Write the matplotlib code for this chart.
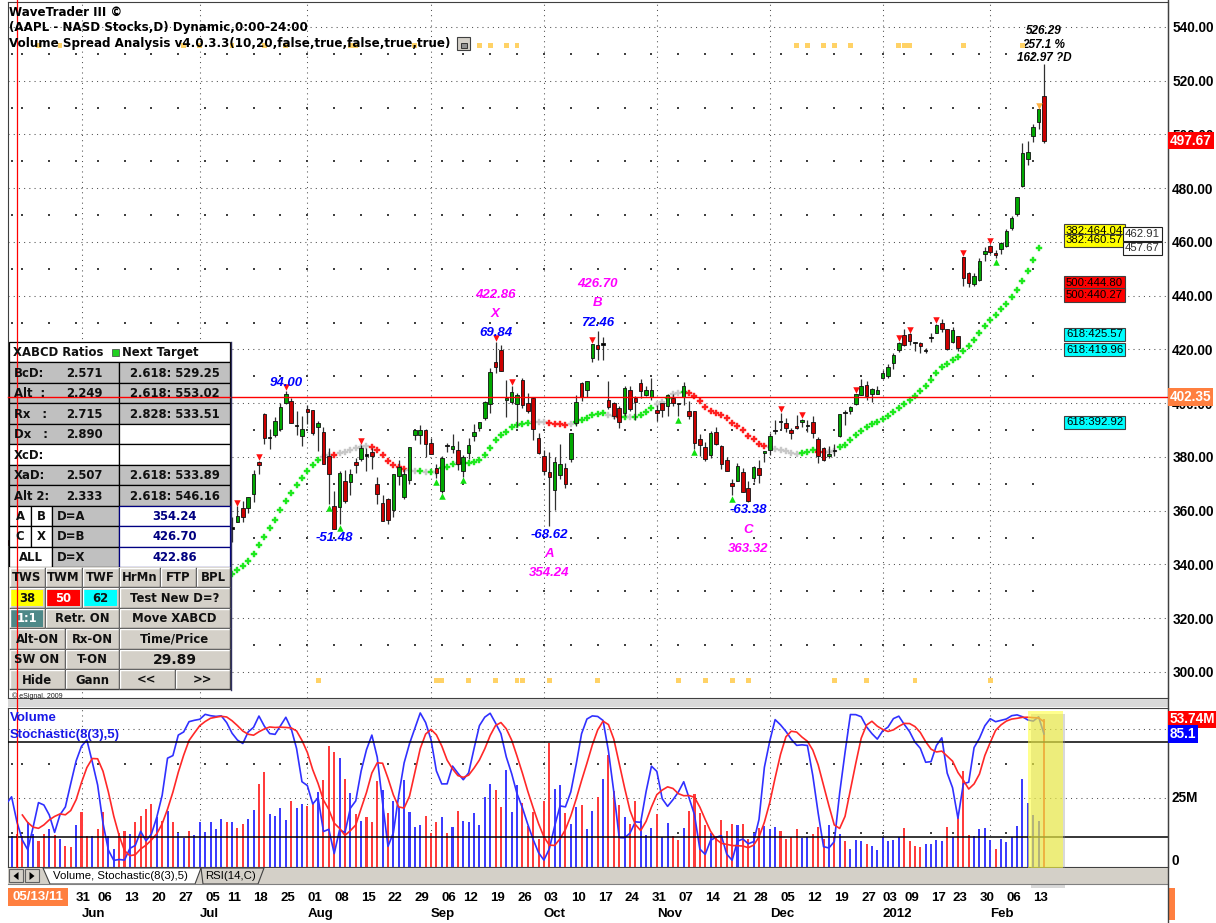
import numpy as np
import pandas as pd
import matplotlib
matplotlib.use("Agg")
import matplotlib.pyplot as plt
import matplotlib.transforms as mtrans
from matplotlib.patches import Rectangle, Polygon

plt.rcParams['font.family'] = ['Liberation Sans', 'DejaVu Sans']

# ---------------------------------------------------------------- data
holidays = ['2011-05-30', '2011-07-04', '2011-09-05', '2011-11-24',
            '2011-12-26', '2012-01-02', '2012-01-16']
n_pre = 11   # bars before the first displayed bar (2011-05-12)

opens = [
    352.24, 346.19, 346.78, 349.74, 347.99, 348.40, 348.25, 349.69, 347.86, 348.60, 349.02,
    346.12, 345.16, 339.20, 332.00, 336.47, 342.08, 339.56, 329.97, 335.50, 333.43, 335.97, 334.80, 341.10,
    348.87, 346.50, 343.61, 345.70, 338.34, 331.78, 333.25, 330.55, 326.20, 329.99, 329.66, 326.10, 328.99, 317.36, 316.68, 325.16, 318.03, 331.37, 327.59, 333.23, 336.37, 334.70,
    335.95, 343.00, 349.24, 354.67, 353.10, 356.75, 353.18, 355.74, 360.86, 361.17, 366.07, 378.00, 396.00, 386.95, 388.32, 390.35, 400.00, 401.00, 391.62, 387.64,
    397.78, 397.65, 390.98, 389.41, 380.44, 361.69, 361.30, 371.15, 370.52, 378.07, 379.26, 381.03, 382.00, 370.12, 362.80, 364.50, 360.31, 372.81, 365.19, 371.48, 388.12, 388.00, 390.20,
    385.01, 376.00, 367.18, 384.53, 383.00, 382.49, 374.88, 381.37, 387.90, 390.91, 394.47, 399.61, 415.20, 419.64, 401.07, 400.31, 399.86, 408.73, 400.19, 401.92, 387.12,
    380.37, 374.57, 367.86, 373.33, 375.78, 379.09, 392.57, 407.34, 404.93, 416.83, 421.75, 421.76, 401.35, 400.00, 398.10, 396.18, 405.00, 401.76, 407.56, 403.00, 402.42,
    397.41, 399.92, 399.07, 402.03, 399.91, 402.21, 396.97, 397.03, 386.61, 383.52, 380.80, 389.25, 383.98, 378.92, 370.40, 371.02, 374.51, 368.42, 372.35, 375.84, 381.29,
    382.54, 389.83, 393.49, 392.51, 389.93, 391.45, 392.85, 391.68, 393.00, 386.70, 383.33, 380.36, 382.47, 387.76, 396.69, 397.00, 399.69, 403.10, 406.89, 403.40, 403.51,
    409.40, 410.00, 414.95, 419.77, 425.50, 425.91, 422.59, 422.41, 419.53, 424.20, 426.28, 430.03, 427.49, 422.67, 425.10, 454.44, 448.45, 444.34, 445.71, 455.59,
    458.41, 455.90, 457.30, 458.38, 465.25, 470.50, 480.70, 490.96, 499.53, 504.66, 514.26]

highs = [
    352.35, 349.35, 353.95, 350.47, 349.89, 351.62, 350.80, 350.00, 349.20, 350.18, 350.00,
    347.12, 345.42, 341.22, 336.14, 341.05, 342.40, 340.95, 335.98, 335.90, 338.56, 336.89, 337.63, 347.90,
    352.13, 347.98, 347.87, 349.79, 339.00, 334.80, 333.78, 331.09, 328.31, 333.25, 330.19, 328.79, 329.25, 317.70, 325.80, 327.00, 331.69, 333.15, 333.90, 336.00, 336.82, 336.13,
    343.50, 349.83, 354.04, 357.92, 359.77, 358.67, 357.56, 361.60, 363.48, 365.00, 375.00, 378.63, 396.27, 390.25, 395.05, 400.00, 404.50, 401.88, 396.99, 395.15,
    399.50, 397.65, 393.55, 391.32, 383.50, 367.34, 374.61, 375.23, 375.45, 379.64, 384.59, 383.33, 383.23, 372.50, 366.00, 364.90, 373.64, 378.90, 375.45, 383.80, 389.70, 391.80, 390.25,
    387.00, 377.36, 380.25, 385.10, 388.41, 386.08, 380.88, 386.99, 392.17, 393.02, 400.87, 413.23, 422.86, 421.59, 408.69, 406.50, 403.98, 409.25, 403.74, 402.21, 388.89,
    382.64, 381.80, 379.82, 384.78, 377.74, 388.89, 403.18, 407.80, 408.43, 422.00, 426.70, 424.81, 408.42, 400.35, 399.14, 406.50, 406.39, 402.50, 409.00, 406.35, 409.33,
    399.50, 400.00, 403.40, 403.44, 400.00, 408.00, 400.89, 397.21, 388.70, 385.51, 389.50, 391.14, 384.58, 379.99, 371.68, 377.93, 375.84, 371.20, 376.50, 378.83, 382.28,
    389.00, 393.63, 396.41, 394.63, 390.94, 395.50, 394.04, 393.90, 395.40, 387.38, 383.74, 384.15, 384.85, 396.10, 397.30, 399.13, 403.59, 409.09, 408.25, 405.65, 406.28,
    412.50, 414.68, 418.55, 422.75, 427.75, 426.00, 422.85, 422.90, 420.45, 425.99, 429.47, 431.37, 427.50, 428.45, 425.10, 454.45, 448.79, 448.48, 453.90, 458.24,
    458.99, 457.17, 460.00, 464.98, 469.75, 476.79, 496.75, 497.62, 503.83, 509.56, 526.29]

lows = [
    347.10, 345.50, 346.67, 345.50, 345.62, 346.15, 344.54, 346.21, 346.53, 347.42, 345.24,
    342.27, 340.00, 332.60, 330.73, 336.00, 338.69, 335.02, 329.42, 331.34, 332.85, 334.43, 334.31, 341.10,
    344.65, 342.82, 342.33, 337.94, 331.87, 330.65, 329.83, 325.21, 325.07, 329.43, 324.76, 318.32, 319.36, 310.50, 315.20, 321.93, 318.12, 325.09, 326.41, 330.33, 331.93, 332.84,
    334.43, 342.50, 346.67, 353.01, 352.18, 352.19, 348.17, 355.61, 355.86, 358.98, 363.13, 373.75, 385.00, 383.00, 387.60, 389.55, 399.68, 392.49, 388.12, 384.00,
    392.37, 388.35, 382.24, 377.35, 362.57, 353.02, 355.00, 363.01, 365.67, 374.04, 378.57, 374.79, 375.68, 362.52, 356.00, 355.00, 357.58, 369.60, 364.17, 370.00, 386.24, 385.00, 380.04,
    380.96, 372.00, 366.72, 381.86, 381.42, 375.00, 372.65, 379.21, 386.00, 389.71, 393.87, 396.37, 411.23, 412.00, 395.00, 399.55, 391.30, 398.06, 396.51, 386.21, 381.18,
    373.17, 354.24, 360.30, 371.80, 368.49, 378.16, 391.50, 400.80, 402.40, 415.27, 415.99, 415.99, 397.80, 394.21, 390.75, 395.40, 397.00, 393.82, 401.89, 402.51, 401.05,
    393.22, 394.85, 395.36, 399.00, 395.11, 399.50, 394.23, 383.07, 380.26, 378.43, 379.45, 384.32, 375.50, 374.88, 365.91, 370.94, 366.88, 363.32, 370.80, 370.20, 378.30,
    380.75, 388.58, 390.39, 389.38, 386.76, 390.23, 391.03, 389.45, 387.10, 377.68, 378.31, 379.57, 380.48, 387.26, 392.01, 396.10, 399.49, 403.02, 401.34, 400.51, 403.49,
    409.00, 409.28, 412.67, 419.22, 421.35, 421.50, 419.31, 418.75, 418.66, 422.96, 426.30, 426.51, 419.75, 422.30, 419.55, 443.73, 443.14, 443.77, 445.39, 453.07,
    455.55, 453.98, 455.56, 458.20, 464.58, 469.70, 480.56, 488.55, 497.09, 502.00, 496.89]

closes = [
    350.15, 346.75, 350.13, 346.28, 348.20, 349.57, 346.75, 346.66, 347.60, 349.45, 347.23,
    346.57, 340.50, 333.30, 336.14, 339.87, 340.53, 335.22, 334.40, 332.19, 336.78, 335.00, 337.41, 347.83,
    345.51, 346.10, 343.44, 338.04, 332.04, 332.24, 331.49, 325.90, 326.60, 332.44, 326.75, 325.16, 320.26, 315.32, 325.30, 322.61, 331.23, 326.35, 332.04, 335.26, 334.04, 335.67,
    343.26, 349.43, 351.76, 357.20, 359.71, 354.00, 353.75, 358.02, 357.77, 364.92, 373.80, 376.85, 386.90, 387.29, 393.30, 398.50, 403.41, 392.59, 391.82, 390.48,
    396.75, 388.91, 392.57, 377.37, 373.62, 353.21, 374.01, 363.69, 373.70, 376.99, 383.41, 380.48, 380.44, 366.05, 356.03, 356.44, 373.60, 376.18, 373.72, 383.58, 389.97, 389.99, 384.83,
    381.03, 374.05, 379.74, 383.93, 384.14, 377.48, 379.94, 384.62, 389.30, 392.96, 400.50, 411.63, 413.45, 412.14, 401.82, 404.30, 403.17, 399.26, 397.01, 390.57, 381.32,
    374.60, 372.50, 378.25, 377.37, 369.80, 388.81, 400.29, 402.19, 408.43, 422.00, 419.99, 422.24, 398.62, 395.31, 392.87, 405.77, 397.77, 400.60, 404.69, 404.95, 404.78,
    396.51, 397.41, 403.07, 400.24, 399.73, 406.23, 395.28, 385.22, 384.62, 379.26, 388.83, 384.77, 377.41, 374.94, 369.01, 376.51, 366.99, 363.57, 376.12, 373.20, 382.20,
    387.93, 389.70, 393.01, 390.95, 389.09, 390.66, 393.62, 391.84, 388.81, 380.19, 378.94, 381.02, 382.21, 395.95, 396.44, 398.55, 403.33, 406.53, 402.64, 405.12, 405.00,
    411.23, 413.44, 418.03, 422.40, 421.73, 423.24, 422.55, 421.39, 419.81, 424.70, 429.11, 427.75, 420.30, 427.41, 420.41, 446.66, 444.63, 447.28, 453.01, 456.48,
    456.19, 455.12, 459.68, 463.97, 468.83, 476.68, 493.17, 493.42, 502.60, 509.46, 497.67]

# volume (millions) for displayed bars, 2011-05-12 .. 2012-02-15
volumes = [
    11.3, 12.0, 11.3, 16.2, 11.9, 9.4, 11.9, 13.7, 11.6, 10.0, 7.6, 7.4, 15.2, 19.9, 11.3, 11.3,
    13.7, 19.9, 11.3, 6.4, 12.5, 13.1, 11.9, 16.2, 18.6, 21.1, 22.9, 18.0, 16.8, 20.5, 16.2, 12.5,
    10.7, 13.1, 11.6, 16.2, 12.9, 16.2, 13.7, 17.4, 16.5, 16.4, 14.1, 15.8, 17.4, 20.7, 30.0, 34.6,
    19.2, 18.6, 21.4, 17.0, 23.9, 21.4, 22.9, 22.3, 23.2, 27.2, 31.7, 44.0, 41.9, 39.7, 32.1, 26.8,
    19.2, 16.8, 18.0, 16.2, 31.1, 28.1, 19.6, 23.9, 21.9, 31.7, 19.9, 14.6, 15.3, 18.6, 12.5, 16.2,
    18.3, 12.5, 14.7, 20.2, 16.8, 16.2, 19.7, 15.2, 25.4, 30.3, 28.1, 21.9, 35.4, 19.9, 29.7, 23.2,
    15.0, 19.9, 10.0, 24.1, 45.2, 28.4, 29.9, 19.5, 15.8, 21.7, 22.7, 13.7, 20.5, 25.4, 32.1, 40.7,
    27.6, 22.7, 18.3, 15.6, 24.1, 16.8, 11.6, 14.1, 19.2, 10.9, 15.9, 11.3, 9.7, 14.3, 20.2, 26.6,
    19.5, 15.3, 12.5, 10.9, 17.0, 13.1, 15.8, 15.3, 15.6, 10.0, 12.5, 14.3, 15.0, 13.7, 14.6, 13.1,
    10.0, 10.9, 13.7, 10.7, 10.9, 11.9, 14.7, 10.0, 15.2, 10.9, 11.9, 9.4, 6.7, 9.7, 9.4, 8.2,
    7.6, 6.1, 10.9, 9.4, 9.7, 11.0, 14.0, 9.4, 7.6, 7.2, 8.2, 8.5, 9.7, 9.4, 14.7, 10.9,
    19.2, 34.8, 11.6, 11.2, 13.7, 14.1, 9.7, 6.6, 10.0, 9.2, 10.9, 14.8, 32.1, 23.2, 18.9, 16.8,
    53.74]
# volume bar colour: b = blue, r = red
vol_dir = ("brrbbrrbrb" "rrbrrbrrbb" "rrbrrrrbrb" "rbbrbbbbbb" "rbrrbbrr"
           "bbbbrbbrrb" "rrrbrbrbrr" "rbrbbbbbbr" "rrbrbrbbbb" "bbrrbbbr"
           "rrrrrbbrbb" "rbbrbrrrbr" "rbbbrbbrrb" "rrrrbrrrrb" "rrbrbbbrr"
           "rrbbrrrbrb" "rbbbrbbbbb" "brrrrbbbbr" "brrrbbbbrb" "bbbbbbbr")

ref_price = 402.35
red_marks = [42, 46, 51, 65, 90, 93, 108, 143, 147, 157, 165, 167, 172, 177, 182]
green_marks = [59, 61, 79, 80, 84, 124, 127, 134, 183]
orange_marks = [191]
vsa_top = [5, 9, 32, 35, 41, 47, 51, 63, 64, 75, 87, 89, 92, 94, 146, 148, 151, 153, 156,
           165, 166, 167, 177, 188]
vsa_bottom = [57, 79, 80, 85, 90, 94, 95, 100, 109, 124, 129, 134, 137, 153, 159, 168, 182]

# swing labels: bar, side, swing size, letter, pivot price text
swings = [(51, 'high', '94.00', None, None),
          (60, 'low', '-51.48', None, None),
          (90, 'high', '69.84', 'X', '422.86'),
          (100, 'low', '-68.62', 'A', '354.24'),
          (109, 'high', '72.46', 'B', '426.70'),
          (137, 'low', '-63.38', 'C', '363.32')]
top_note = ['526.29', '257.1 %', '162.97 ?D']

fib_boxes = [('382:464.04', 464.04, '#FFFF00'), ('382:460.57', 460.57, '#FFFF00'),
             ('500:444.80', 444.80, '#FF0000'), ('500:440.27', 440.27, '#FF0000'),
             ('618:425.57', 425.57, '#00FFFF'), ('618:419.96', 419.96, '#00FFFF'),
             ('618:392.92', 392.92, '#00FFFF')]
side_boxes = [('462.91', 462.91), ('457.67', 457.67)]

price_ticks = list(range(300, 541, 20))
stoch_last = '85.1'
vol_last = '53.74M'

ratio_rows = [("BcD:", "2.571", "2.618: 529.25"), ("Alt  :", "2.249", "2.618: 553.02"),
              ("Rx   :", "2.715", "2.828: 533.51"), ("Dx   :", "2.890", ""),
              ("XcD:", "", ""), ("XaD:", "2.507", "2.618: 533.89"),
              ("Alt 2:", "2.333", "2.618: 546.16")]
d_rows = [("A", "B", "D=A", "354.24"), ("C", "X", "D=B", "426.70"), ("ALL", None, "D=X", "422.86")]

# ---------------------------------------------------------------- derived series
dates = pd.bdate_range('2011-04-27', '2012-02-15')
dates = dates[~dates.isin(pd.to_datetime(holidays))]
O = np.array(opens); Hh = np.array(highs); L = np.array(lows); C = np.array(closes)
N = len(C)
xi = np.arange(N) - n_pre
Cs, Hs, Ls = pd.Series(C), pd.Series(Hh), pd.Series(L)
ma = Cs.rolling(20).mean()
raw = (Cs - Ls.rolling(8).min()) / (Hs.rolling(8).max() - Ls.rolling(8).min()) * 100
k_line = raw.rolling(3).mean()
d_line = k_line.rolling(5).mean()

ddates = dates[n_pre:]
wk = ddates.to_period('W')
week_idx = [i for i in range(len(ddates)) if i == 0 or wk[i] != wk[i - 1]]
mo = ddates.to_period('M')
month_idx = [i for i in range(1, len(ddates)) if mo[i] != mo[i - 1]]

# ---------------------------------------------------------------- layout
W, H = 1216, 923
fig = plt.figure(figsize=(W / 100, H / 100), dpi=100)
fig.patch.set_facecolor('white')


def fa(x0, y0, x1, y1):
    return [x0 / W, 1 - y1 / H, (x1 - x0) / W, (y1 - y0) / H]


BAR0, BARW = 11.6, 5.377
XL = ((8 - BAR0) / BARW, (1168 - BAR0) / BARW)
dot = (0, (1, 4))
gridc = '#505050'
AXF = dict(fontsize=9.8, fontweight='bold')

# ---- price panel
ax = fig.add_axes(fa(8, 2, 1168, 698))
ax.set_xlim(*XL)
ax.set_ylim(290.3, 549.3)
for s in ax.spines.values():
    s.set_color('#404040')
ax.set_xticks([])
ax.yaxis.tick_right()
ax.set_yticks(price_ticks)
ax.set_yticklabels([f'{v:.2f}' for v in price_ticks], **AXF)
ax.tick_params(axis='y', length=0, pad=3)
for y in price_ticks:
    ax.axhline(y, color=gridc, lw=0.75, ls=dot, zorder=1)
for m in month_idx:
    ax.axvline(m, color=gridc, lw=0.75, ls=dot, zorder=1)
gx, gy = np.meshgrid(week_idx, np.arange(310, 540, 20))
ax.scatter(gx.ravel(), gy.ravel(), s=1.3, marker='s', color='#404040', lw=0, zorder=1)

# moving average dots (20-bar average of the closes)
slope = ma.diff()
for i in range(N):
    if xi[i] < 0 or xi[i] > 191 or np.isnan(ma[i]):
        continue
    if slope[i] >= 0 and C[i] >= ma[i]:
        col = '#1EE81E'
    elif slope[i] < 0 and C[i] < ma[i]:
        col = '#FF2020'
    else:
        col = '#C8C8C8'
    ax.plot(xi[i], ma[i], marker='P', ms=4.8, color=col, mec=col, mew=0.3, zorder=3)

# candles
ax.vlines(xi, L, Hh, colors='#303030', lw=0.9, zorder=4)
lo = np.minimum(O, C)
hgt = np.maximum(np.abs(C - O), 0.3)
body_col = np.where(np.abs(C - O) < 0.6, '#000000', np.where(C >= O, '#00A800', '#CC0000'))
ax.bar(xi, hgt, bottom=lo, width=0.66, color=body_col, edgecolor='#101010', linewidth=0.6, zorder=5)

for b in red_marks:
    j = b + n_pre
    ax.scatter(b, Hh[j] + 1.4, marker='v', s=22, color='#FF1010', lw=0, zorder=6)
for b in orange_marks:
    j = b + n_pre
    ax.scatter(b, Hh[j] + 1.2, marker='v', s=22, color='#FFB040', lw=0, zorder=6)
for b in green_marks:
    j = b + n_pre
    ax.scatter(b, L[j] - 1.4, marker='^', s=22, color='#10E010', lw=0, zorder=6)

PXU = 0.72  # points per pixel
for b, side, sz, letter, ptxt in swings:
    j = b + n_pre
    if side == 'high':
        y0 = Hh[j]; sign = 1
    else:
        y0 = L[j]; sign = -1
    kw = dict(xycoords='data', textcoords='offset points', ha='center', va='center',
              fontsize=9.5, fontweight='bold', fontstyle='italic', zorder=7)
    ax.annotate(sz, (b, y0), xytext=(0, sign * 8.5 * PXU), color='#0000FF', **kw)
    if letter:
        ax.annotate(letter, (b, y0), xytext=(0, sign * 28 * PXU), color='#FF00FF', **kw)
        ax.annotate(ptxt, (b, y0), xytext=(0, sign * 47 * PXU), color='#FF00FF', **kw)
jl = N - 1
for t, off in zip(top_note, [33, 19, 6]):
    ax.annotate(t, (xi[jl], Hh[jl]), xytext=(0, off * PXU), textcoords='offset points',
                ha='center', va='center', fontsize=8.5, fontweight='bold',
                fontstyle='italic', color='black', zorder=7)

# ---- lower panel
axv = fig.add_axes(fa(8, 708, 1168, 867))
axv.set_xlim(*XL)
axv.set_ylim(0, 57.8)
for s in axv.spines.values():
    s.set_color('#404040')
axv.set_xticks([])
axv.set_yticks([])
for y in (25, 50):
    axv.axhline(y, color=gridc, lw=0.75, ls=dot, zorder=1)
for m in month_idx:
    axv.axvline(m, color=gridc, lw=0.75, ls=dot, zorder=1)
gx, gy = np.meshgrid(week_idx, [12.5, 37.5])
axv.scatter(gx.ravel(), gy.ravel(), s=1.3, marker='s', color='#404040', lw=0, zorder=1)
vcols = ['#3C3CFF' if c == 'b' else '#FF3C3C' for c in vol_dir]
axv.bar(np.arange(len(volumes)), volumes, width=0.38, color=vcols, zorder=2)

axs = axv.twinx()
axs.set_ylim(1.05, 101.5)
axs.set_yticks([])
for s in axs.spines.values():
    s.set_visible(False)
axs.plot(xi, k_line, color='#3030FF', lw=1.2, zorder=3)
axs.plot(xi, d_line, color='#FF2828', lw=1.2, zorder=3)
axs.axhline(80, color='black', lw=1.1, zorder=4)
axs.axhline(20, color='black', lw=1.1, zorder=4)
axs.set_xlim(*XL)

# ---- date axis
axd = fig.add_axes(fa(8, 884, 1168, 923))
axd.set_xlim(*XL)
axd.set_ylim(923, 884)
axd.axis('off')
cursor_box_right = (68 - BAR0) / BARW
for i in week_idx:
    if i < cursor_box_right:
        continue  # covered by the cursor-date box
    axd.text(i, 897.5, ddates[i].strftime('%d'), ha='left', va='center',
             fontsize=9.5, fontweight='bold', color='black')
for i in month_idx:
    lab = ddates[i].strftime('%Y') if ddates[i].month == 1 else ddates[i].strftime('%b')
    axd.text(i, 913.5, lab, ha='left', va='center', fontsize=9.5, fontweight='bold')

# ---- overlay (pixel coordinates)
ov = fig.add_axes([0, 0, 1, 1])
ov.set_xlim(0, W)
ov.set_ylim(H, 0)
ov.axis('off')
ov.patch.set_alpha(0)
ov.set_zorder(10)
tx_price = mtrans.blended_transform_factory(ov.transData, ax.transData)
tx_vol = mtrans.blended_transform_factory(ov.transData, axv.transData)
tx_st = mtrans.blended_transform_factory(ov.transData, axs.transData)
tx_barx = mtrans.blended_transform_factory(ax.transData, ov.transData)

# header
hdr = ['WaveTrader III ©', '(AAPL - NASD Stocks,D) Dynamic,0:00-24:00',
       'Volume Spread Analysis v4.0.3.3(10,20,false,true,false,true,true)']
for t, y in zip(hdr, [13, 28, 43.5]):
    ov.text(9, y, t, ha='left', va='center', fontsize=8.6, fontweight='bold',
            color='black', family=['DejaVu Sans'])
ov.add_patch(Rectangle((457, 37), 13, 13, fc='#D4D0C8', ec='#404040', lw=0.8))
ov.add_patch(Rectangle((460.5, 42.5), 6, 5, fc='#909090', ec='#202020', lw=0.6))

# VSA markers
for b in vsa_top:
    ov.add_patch(Rectangle((b - 0.45, 43), 0.9, 5, transform=tx_barx, fc='#FFD266', ec='none'))
for b in vsa_bottom:
    ov.add_patch(Rectangle((b - 0.45, 678), 0.9, 5, transform=tx_barx, fc='#FFD266', ec='none'))

# separator band between panels
ov.add_patch(Rectangle((8, 699), 1160, 8, fc='#D8D8D8', ec='none'))
ov.text(12, 696, '© eSignal, 2009', fontsize=5, ha='left', va='center', color='#202020')

# right price tags
ov.text(1170, closes[-1], f'{closes[-1]:.2f}', transform=tx_price, ha='left', va='center',
        color='white', bbox=dict(boxstyle='square,pad=0.12', fc='#FF0000', ec='none'), **AXF)
ov.text(1170, ref_price, f'{ref_price:.2f}', transform=tx_price, ha='left', va='center',
        color='white', clip_on=False,
        bbox=dict(boxstyle='square,pad=0.12', fc='#FF7F3F', ec='none'), **AXF)
ov.plot([8, 1168], [ref_price, ref_price], transform=tx_price, color='#FF0000', lw=1.0)

for t, p, c in fib_boxes:
    ov.text(1066, p, t, transform=tx_price, ha='left', va='center', fontsize=8.2,
            color='black', bbox=dict(boxstyle='square,pad=0.15', fc=c, ec='#404040', lw=0.8))
for t, p in side_boxes:
    ov.text(1125, p, t, transform=tx_price, ha='left', va='center', fontsize=8.2,
            color='#303030', bbox=dict(boxstyle='square,pad=0.15', fc='white', ec='#202020', lw=0.8))

# lower panel labels / tags
ov.text(10, 718, 'Volume', ha='left', va='center', fontsize=9.5, fontweight='bold', color='#1818E8')
ov.text(10, 735, 'Stochastic(8(3),5)', ha='left', va='center', fontsize=9.5,
        fontweight='bold', color='#1818E8')
ov.text(1172, 25, '25M', transform=tx_vol, ha='left', va='center', **AXF)
ov.text(1172, 861, '0', ha='left', va='center', **AXF)
ov.text(1170, volumes[-1], vol_last, transform=tx_vol, ha='left', va='center',
        color='white', bbox=dict(boxstyle='square,pad=0.12', fc='#FF0000', ec='none'), **AXF)
ov.text(1170, float(stoch_last), stoch_last, transform=tx_st, ha='left', va='center',
        color='white', bbox=dict(boxstyle='square,pad=0.12', fc='#0000FF', ec='none'), **AXF)

# yellow highlight of the latest bars
ov.add_patch(Rectangle((189.5, 714), 6.5, 174, transform=tx_barx, fc='#909090', alpha=0.35, ec='none'))
ov.add_patch(Rectangle((189.0, 711), 6.5, 174, transform=tx_barx, fc='#FFFF30', alpha=0.55, ec='none'))

# tab bar
ov.add_patch(Rectangle((8, 868), 1160, 16, fc='#D4D0C8', ec='none'))
for x0, tri in ((9, [(18.5, 872), (18.5, 880), (13.5, 876)]), (25, [(29.5, 872), (29.5, 880), (34.5, 876)])):
    ov.add_patch(Rectangle((x0, 869), 14, 13, fc='#D4D0C8', ec='#606060', lw=0.8))
    ov.add_patch(Polygon(tri, closed=True, fc='black', ec='none'))
ov.add_patch(Polygon([(43, 868), (50, 884), (195, 884), (201, 868)], closed=True,
                     fc='white', ec='#404040', lw=0.8))
ov.text(53, 876, 'Volume, Stochastic(8(3),5)', ha='left', va='center', fontsize=8.2)
ov.add_patch(Polygon([(201, 868), (203, 884), (258, 884), (264, 868)], closed=True,
                     fc='#D4D0C8', ec='#404040', lw=0.8))
ov.text(205, 876, 'RSI(14,C)', ha='left', va='center', fontsize=8.2)
ov.plot([8, 1168], [884, 884], color='#808080', lw=0.8)

# cursor date box and right-bottom marker
ov.add_patch(Rectangle((8, 888), 60, 18, fc='#FF7F3F', ec='none'))
ov.text(38, 897.5, ddates[1].strftime('%m/%d/%y'), ha='center', va='center',
        fontsize=9.5, fontweight='bold', color='white')
ov.add_patch(Rectangle((1169, 888), 6, 32, fc='#FF7F3F', ec='none'))
ov.plot([1168, 1168], [0, 923], color='#404040', lw=1.0)

# ---- XABCD table
TX0, TXM, TX1 = 9, 119, 230
ROW0, RH = 342, 20.47


def ry(r):
    return ROW0 + r * RH


def cell(x0, x1, r, fc, ec='#000000', lw=0.9):
    ov.add_patch(Rectangle((x0, ry(r)), x1 - x0, RH, fc=fc, ec=ec, lw=lw))


def button(x0, x1, r, fc='#D4D0C8'):
    y0, y1 = ry(r), ry(r) + RH
    ov.add_patch(Rectangle((x0, y0), x1 - x0, RH, fc=fc, ec='none'))
    ov.plot([x0 + 0.5, x0 + 0.5, x1 - 0.5], [y1 - 0.5, y0 + 0.5, y0 + 0.5], color='white', lw=1.0)
    ov.plot([x0 + 0.5, x1 - 0.5, x1 - 0.5], [y1 - 0.5, y1 - 0.5, y0 + 0.5], color='#404040', lw=1.0)


TF = dict(family=['DejaVu Sans'], fontweight='bold', fontsize=8.4)


def txt(x, r, s, ha='left', color='#101010', **kw):
    d = dict(TF)
    d.update(kw)
    ov.text(x, ry(r) + RH / 2 + 0.5, s, ha=ha, va='center', color=color, **d)


cell(TX0, TX1, 0, 'white')
txt(13, 0, 'XABCD Ratios')
ov.add_patch(Rectangle((112, ry(0) + 7), 7, 7, fc='#20D020', ec='#404040', lw=0.5))
txt(122, 0, 'Next Target')
for r, (lab, val, tgt) in enumerate(ratio_rows, start=1):
    lf = 'white' if lab.startswith('XcD') else '#C0C0C0'
    rf = '#C0C0C0' if tgt else 'white'
    cell(TX0, TXM, r, lf)
    cell(TXM, TX1, r, rf)
    txt(14, r, lab)
    txt(66, r, val)
    txt(175, r, tgt, ha='center')
for r, (a, b, dl, v) in enumerate(d_rows, start=8):
    if b is None:
        cell(TX0, 52, r, 'white')
        txt(30.5, r, a, ha='center')
    else:
        cell(TX0, 31, r, 'white')
        cell(31, 52, r, 'white')
        txt(20, r, a, ha='center')
        txt(41.5, r, b, ha='center')
    cell(52, TXM, r, '#C0C0C0')
    txt(57, r, dl)
    cell(TXM, TX1, r, 'white', ec='#000080')
    txt(174.5, r, v, ha='center', color='#000080')

btn_rows = [
    [(9, 45, 'TWS'), (45, 82, 'TWM'), (82, 119, 'TWF'), (119, 160, 'HrMn'), (160, 196, 'FTP'), (196, 230, 'BPL')],
    [(9, 45, '38'), (45, 82, '50'), (82, 119, '62'), (119, 230, 'Test New D=?')],
    [(9, 45, '1:1'), (45, 119, 'Retr. ON'), (119, 230, 'Move XABCD')],
    [(9, 65, 'Alt-ON'), (65, 119, 'Rx-ON'), (119, 230, 'Time/Price')],
    [(9, 65, 'SW ON'), (65, 119, 'T-ON'), (119, 230, '29.89')],
    [(9, 65, 'Hide'), (65, 119, 'Gann'), (119, 175, '<<'), (175, 230, '>>')],
]
special = {'38': ('#FFFF00', '#101010'), '50': ('#FF0000', 'white'),
           '62': ('#00FFFF', '#101010'), '1:1': ('#4E8888', 'white')}
for r, row in enumerate(btn_rows, start=11):
    for x0, x1, t in row:
        button(x0, x1, r)
        if t in special:
            fc, tc = special[t]
            ov.add_patch(Rectangle((x0 + 2, ry(r) + 2), x1 - x0 - 4, RH - 4, fc=fc, ec='none'))
            txt((x0 + x1) / 2, r, t, ha='center', color=tc)
        elif t == '29.89':
            txt((x0 + x1) / 2, r, t, ha='center', fontsize=10)
        else:
            txt((x0 + x1) / 2, r, t, ha='center')
ov.plot([TX1 + 1, TX1 + 1], [ROW0, ry(17)], color='#303060', lw=1.0)

# cursor line (on top)
ov.plot([1, 1], [0, 867], transform=tx_barx, color='#FF0000', lw=0.9)

fig.savefig('out.png', dpi=100, facecolor='white')
